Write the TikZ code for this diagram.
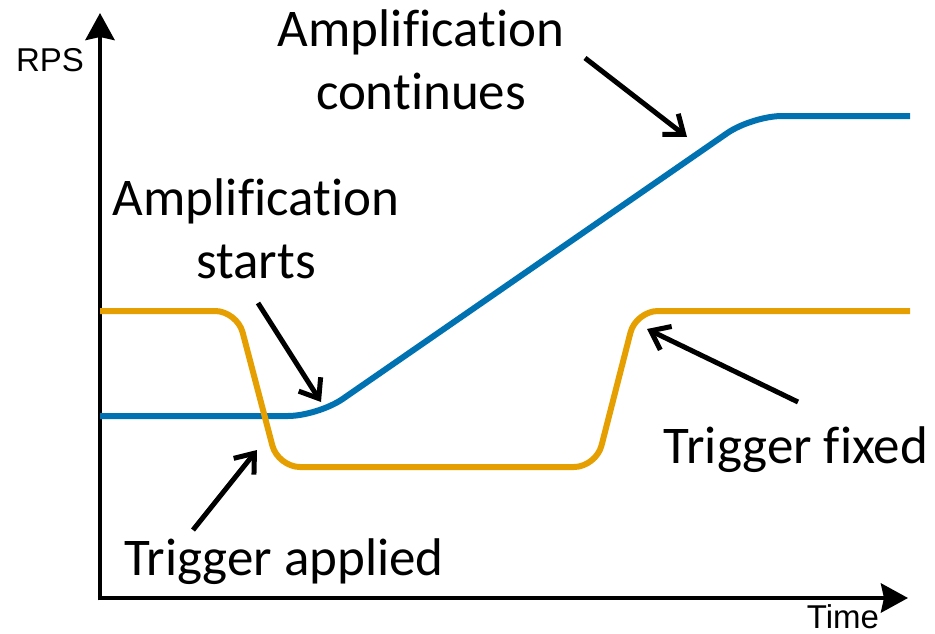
\documentclass[tikz,border=0pt]{standalone}
\usepackage{fontspec}
\setmainfont{Carlito}[Ligatures=NoCommon]
\newfontfamily\axisfont{Liberation Sans}
\usetikzlibrary{arrows.meta}
\definecolor{rpsblue}{RGB}{0,114,178}
\definecolor{trigorange}{RGB}{230,159,0}

\begin{document}
\begin{tikzpicture}[x=1pt,y=-1pt,
  axis/.style={line width=4.5pt,-{Stealth[length=27pt,width=29pt,inset=3pt]}},
  callout/.style={line width=5pt,-{Straight Barb[length=17pt,width=26pt]}},
  label/.style={font=\fontsize{53}{63}\selectfont,inner sep=0pt,anchor=base},
  axislabel/.style={font=\axisfont\fontsize{33}{40}\selectfont,inner sep=0pt,anchor=base},
  curve/.style={line width=6pt}]
\useasboundingbox (0,0) rectangle (935,634);

% axes
\coordinate (yfoot) at (100,600.25);
\coordinate (ytip) at (100,13);
\coordinate (xfoot) at (97.75,598);
\coordinate (xtip) at (908,598);
\draw[axis] (yfoot) -- (ytip);
\draw[axis] (xfoot) -- (xtip);
\node[axislabel] (rps) at (50,72) {RPS};
\node[axislabel] (time) at (843,628) {Time};

% RPS response
\draw[curve,rpsblue,rounded corners=30pt]
  (100,416) -- (318,416) -- (752,116) -- (910,116);
% trigger signal
\draw[curve,trigorange,rounded corners=22pt]
  (100,311) -- (237,311) -- (278,467) -- (596,467) -- (636,311) -- (910,311);

% labels
\node[label] (contA) at (421,47) {Amplification};
\node[label] (contB) at (421,110) {continues};
\node[label] (startA) at (256,215) {Amplification};
\node[label] (startB) at (256,278) {starts};
\node[label] (fixed) at (796,463) {Trigger fixed};
\node[label] (applied) at (284,575) {Trigger applied};

% callout arrows
\coordinate (c1s) at (585,58);  \coordinate (c1e) at (687,137);
\coordinate (c2s) at (258,303); \coordinate (c2e) at (321,402);
\coordinate (c3s) at (193,530); \coordinate (c3e) at (257,450);
\coordinate (c4s) at (798,402); \coordinate (c4e) at (647,329);
\draw[callout] (c1s) -- (c1e);
\draw[callout] (c2s) -- (c2e);
\draw[callout] (c3s) -- (c3e);
\draw[callout] (c4s) -- (c4e);
\end{tikzpicture}
\end{document}
